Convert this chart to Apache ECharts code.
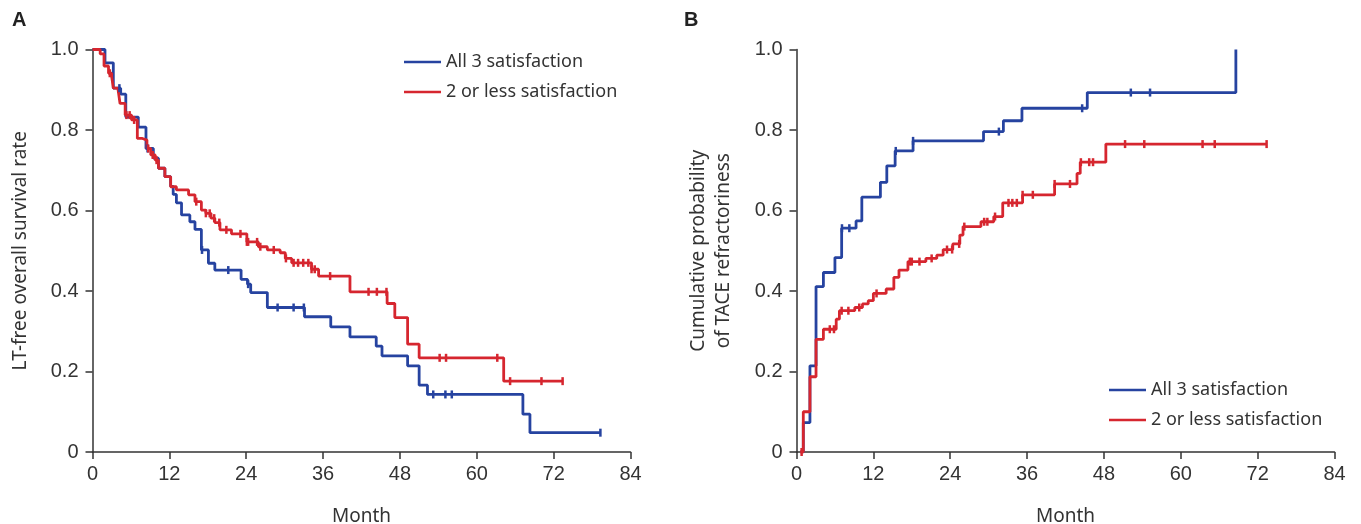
<!DOCTYPE html>
<html>
<head>
<meta charset="utf-8">
<script src="https://cdn.jsdelivr.net/npm/echarts@6/dist/echarts.min.js"></script>
<style>
html,body{margin:0;padding:0;background:#fff;}
#chart{width:1361px;height:524px;}
</style>
</head>
<body>
<div id="chart"></div>
<script>
// ---- Data ----
const seriesNames = ['All 3 satisfaction', '2 or less satisfaction'];
const xTicks = [0, 12, 24, 36, 48, 60, 72, 84];
const yTickLabels = ['0', '0.2', '0.4', '0.6', '0.8', '1.0'];

// Panel A: LT-free overall survival, step points [month, rate]
const aAll3 = [[0,1.0],[1.95,0.967],[3.25,0.904],[4.4,0.889],[5.2,0.832],[7.15,0.807],[8.35,0.754],[9.5,0.73],[10.3,0.705],[11.3,0.684],[12.2,0.66],[12.6,0.64],[13.1,0.619],[13.9,0.589],[15.2,0.572],[16.0,0.553],[17.0,0.502],[18.1,0.469],[19.1,0.452],[23.2,0.429],[24.2,0.417],[24.7,0.396],[27.3,0.359],[33.1,0.336],[37.2,0.311],[40.2,0.286],[44.3,0.263],[45.2,0.239],[49.2,0.214],[51.0,0.166],[52.3,0.143],[67.2,0.094],[68.3,0.048],[79.3,0.048]];
const aAll3Censor = [4.2, 8.6, 17.1, 21.2, 24.3, 28.9, 31.4, 33.0, 53.2, 55.1, 56.1, 79.3];
const aLess2 = [[0,1.0],[1.2,0.989],[1.8,0.959],[2.5,0.941],[3.0,0.932],[3.25,0.904],[4.0,0.899],[4.3,0.866],[5.1,0.837],[6.1,0.825],[7.0,0.779],[7.8,0.775],[8.5,0.754],[9.1,0.738],[9.8,0.725],[10.3,0.705],[11.3,0.684],[12.2,0.659],[13.1,0.651],[15.0,0.639],[16.0,0.622],[17.0,0.601],[17.7,0.593],[18.5,0.581],[19.1,0.570],[19.9,0.552],[21.7,0.542],[24.1,0.522],[25.9,0.510],[27.3,0.502],[29.3,0.495],[30.1,0.481],[31.1,0.470],[34.2,0.454],[35.3,0.437],[40.2,0.398],[46.0,0.369],[47.2,0.334],[49.2,0.268],[51.0,0.234],[64.2,0.176],[73.5,0.176]];
const aLess2Censor = [2.7, 5.3, 5.8, 6.5, 8.7, 9.4, 10.0, 16.2, 17.7, 18.3, 19.0, 19.8, 20.9, 23.1, 24.1, 24.3, 25.7, 26.2, 28.3, 30.2, 31.4, 32.1, 32.9, 33.7, 34.2, 34.7, 37.1, 43.1, 44.4, 45.9, 54.2, 55.2, 63.2, 65.2, 70.1, 73.4];

// Panel B: cumulative probability of TACE refractoriness
const bAll3 = [[0.6,0],[1.06,0.073],[2.1,0.214],[3.05,0.411],[4.2,0.446],[6.0,0.483],[7.05,0.556],[9.3,0.574],[10.2,0.633],[13.1,0.670],[14.1,0.711],[15.4,0.748],[18.2,0.773],[29.2,0.796],[32.3,0.823],[35.2,0.854],[45.4,0.893],[68.6,1.0]];
const bAll3Censor = [7.1, 8.25, 15.5, 18.2, 31.6, 44.6, 52.2, 55.2];
const bLess2 = [[0.6,0],[1.06,0.100],[2.1,0.187],[3.05,0.280],[4.2,0.305],[6.2,0.330],[6.7,0.351],[9.1,0.359],[10.3,0.368],[11.2,0.376],[12.0,0.394],[14.0,0.405],[15.2,0.434],[16.0,0.452],[17.4,0.473],[20.2,0.481],[21.9,0.489],[22.9,0.503],[24.4,0.517],[25.5,0.539],[26.0,0.560],[28.8,0.572],[30.8,0.585],[32.2,0.619],[35.3,0.639],[40.3,0.666],[43.8,0.692],[44.3,0.720],[48.3,0.765],[73.4,0.765]];
const bLess2Censor = [0.8, 5.2, 5.85, 7.05, 8.1, 9.8, 12.5, 17.7, 18.0, 19.2, 21.1, 23.5, 24.3, 25.4, 26.2, 29.3, 29.8, 31.0, 33.1, 33.7, 34.4, 35.3, 36.9, 40.3, 42.7, 44.4, 45.7, 46.3, 51.3, 54.3, 63.4, 65.3, 73.4];

// ---- Chart ----
const BLUE = '#2643a0';
const RED = '#d6262f';
const AXIS = '#333333';
const TICKFONT = 'Liberation Sans';
const TEXTFONT = 'Noto Sans';

function stepAt(steps, t) {
  let v = steps[0][1];
  for (const p of steps) { if (p[0] <= t + 1e-9) v = p[1]; }
  return v;
}
function censorPoints(steps, times) { return times.map(t => [t, stepAt(steps, t)]); }

function xAxisFor(gi) {
  return {
    type: 'value', gridIndex: gi, min: 0, max: 84, interval: 12,
    name: 'Month', nameLocation: 'middle', nameGap: 55,
    nameTextStyle: { fontFamily: TEXTFONT, fontSize: 19, color: '#333' },
    axisLine: { show: true, lineStyle: { color: AXIS, width: 1.5 } },
    axisTick: { show: true, inside: false, length: 7, lineStyle: { color: AXIS, width: 1.5 } },
    axisLabel: { margin: 12, fontFamily: TICKFONT, fontSize: 20, color: '#333',
      formatter: v => String(xTicks[xTicks.indexOf(v)]) },
    splitLine: { show: false }
  };
}
function yAxisFor(gi, name, gap) {
  return {
    type: 'value', gridIndex: gi, min: 0, max: 1, interval: 0.2,
    name: name, nameLocation: 'middle', nameGap: gap, nameRotate: 90,
    nameTextStyle: { fontFamily: TEXTFONT, fontSize: 19, color: '#333', lineHeight: 25 },
    axisLine: { show: true, lineStyle: { color: AXIS, width: 1.5 } },
    axisTick: { show: true, inside: false, length: 7, lineStyle: { color: AXIS, width: 1.5 } },
    axisLabel: { margin: 14, fontFamily: TICKFONT, fontSize: 20, color: '#333',
      formatter: v => yTickLabels[Math.round(v / 0.2)] },
    splitLine: { show: false }
  };
}
function stepSeries(name, data, color, idx) {
  return {
    name: name, type: 'line', step: 'end', xAxisIndex: idx, yAxisIndex: idx,
    data: data, showSymbol: false, symbol: 'none', smooth: false,
    lineStyle: { color: color, width: 2.8 }, itemStyle: { color: color },
    emphasis: { disabled: true }, z: 3
  };
}
function censorSeries(name, data, color, idx) {
  return {
    name: name, type: 'scatter', xAxisIndex: idx, yAxisIndex: idx,
    data: data, symbol: 'rect', symbolSize: [2.5, 8],
    itemStyle: { color: color, opacity: 1 }, emphasis: { disabled: true }, z: 4
  };
}
function legendAt(left, top) {
  return {
    data: seriesNames, left: left, top: top, orient: 'vertical', selectedMode: false,
    icon: 'rect', itemWidth: 37, itemHeight: 2.5, itemGap: 10,
    textStyle: { fontFamily: TEXTFONT, fontSize: 18, color: '#333', lineHeight: 20 }
  };
}

const chart = echarts.init(document.getElementById('chart'), null, { renderer: 'canvas' });
chart.setOption({
  animation: false,
  backgroundColor: '#ffffff',
  color: [BLUE, RED],
  grid: [
    { left: 92.5, top: 49.5, width: 538, height: 402.5, containLabel: false, outerBoundsMode: 'none' },
    { left: 796.5, top: 49.5, width: 538, height: 402.5, containLabel: false, outerBoundsMode: 'none' }
  ],
  xAxis: [xAxisFor(0), xAxisFor(1)],
  yAxis: [
    yAxisFor(0, 'LT-free overall survival rate', 59),
    yAxisFor(1, 'Cumulative probability\nof TACE refractoriness', 60)
  ],
  legend: [legendAt(399, 47), legendAt(1104, 375)],
  graphic: [
    { type: 'text', left: 12, top: 10, style: { text: 'A', font: 'bold 20px "Liberation Sans"', fill: '#222' } },
    { type: 'text', left: 684, top: 10, style: { text: 'B', font: 'bold 20px "Liberation Sans"', fill: '#222' } }
  ],
  series: [
    stepSeries(seriesNames[0], aAll3, BLUE, 0),
    stepSeries(seriesNames[1], aLess2, RED, 0),
    censorSeries(seriesNames[0], censorPoints(aAll3, aAll3Censor), BLUE, 0),
    censorSeries(seriesNames[1], censorPoints(aLess2, aLess2Censor), RED, 0),
    stepSeries(seriesNames[0], bAll3, BLUE, 1),
    stepSeries(seriesNames[1], bLess2, RED, 1),
    censorSeries(seriesNames[0], censorPoints(bAll3, bAll3Censor), BLUE, 1),
    censorSeries(seriesNames[1], censorPoints(bLess2, bLess2Censor), RED, 1)
  ]
});
</script>
</body>
</html>
